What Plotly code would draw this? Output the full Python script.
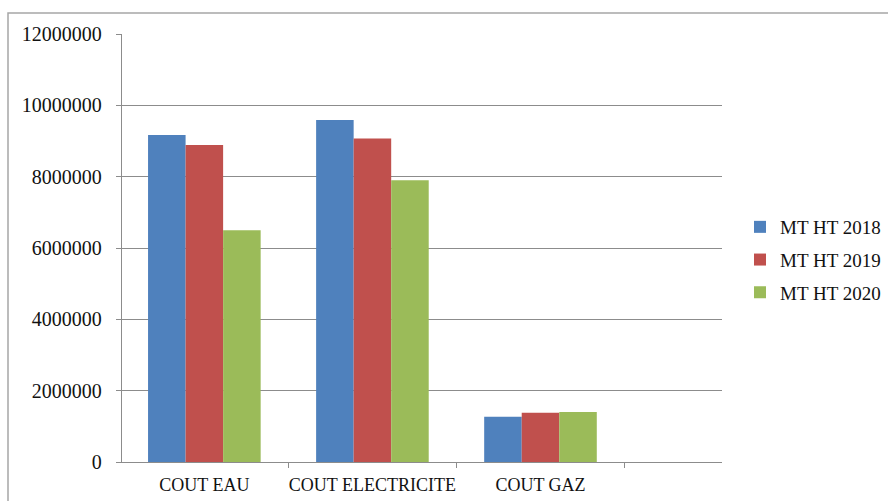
import plotly.graph_objects as go

categories = ["COUT EAU", "COUT ELECTRICITE", "COUT GAZ"]
series_names = ["MT HT 2018", "MT HT 2019", "MT HT 2020"]
values_2018 = [9170000, 9590000, 1270000]
values_2019 = [8890000, 9070000, 1380000]
values_2020 = [6500000, 7900000, 1400000]
colors = ["#4F81BD", "#C0504D", "#9BBB59"]

fig = go.Figure()
for name, vals, col in zip(series_names, [values_2018, values_2019, values_2020], colors):
    fig.add_trace(go.Bar(x=categories, y=vals, name=name, marker_color=col,
                         marker_line_width=0, legendgroup=name))

W, H = 888, 501
L, R, T, B = 122, 166, 34, 39
pw, ph = W - L - R, H - T - B

fig.update_layout(
    width=W, height=H,
    margin=dict(l=L, r=R, t=T, b=B, pad=0, autoexpand=False),
    paper_bgcolor="white", plot_bgcolor="white",
    barmode="group", bargap=0.33, bargroupgap=0,
    font=dict(family="Liberation Serif", color="#111111"),
    legend=dict(x=(740 - L) / pw, xanchor="left", y=(H - B - 260) / ph, yanchor="middle",
                font=dict(size=19, family="Liberation Serif", color="#111111"),
                itemwidth=30, tracegroupgap=5, traceorder="grouped",
                bgcolor="rgba(0,0,0,0)"),
    showlegend=True,
)
fig.update_yaxes(range=[0, 12000000], dtick=2000000, tickformat="d",
                 showgrid=True, gridcolor="#8c8c8c", gridwidth=1.3,
                 showline=True, linecolor="#8c8c8c", linewidth=1.3,
                 ticks="outside", ticklen=5, tickcolor="#8c8c8c", tickwidth=1.3,
                 ticklabelstandoff=10, automargin=False,
                 tickfont=dict(size=20, family="Liberation Serif", color="#111111"),
                 zeroline=False)
fig.update_xaxes(type="category", categoryorder="array", categoryarray=categories,
                 range=[-0.49, 3.08], tickson="boundaries", tickangle=0,
                 showgrid=False, showline=True, linecolor="#8c8c8c", linewidth=1.3,
                 ticks="outside", ticklen=5, tickcolor="#8c8c8c", tickwidth=1.3,
                 ticklabelstandoff=6, automargin=False,
                 tickfont=dict(size=18, family="Liberation Serif", color="#111111"))
# outer chart border
fig.add_shape(type="rect", xref="paper", yref="paper",
              x0=(8 - L) / pw, x1=(W + 20 - L) / pw,
              y0=(H - B - (H + 20)) / ph, y1=(H - B - 13) / ph,
              line=dict(color="#a6a6a6", width=1.5), fillcolor="rgba(0,0,0,0)", layer="below")

fig.write_html("out.html", config={"displayModeBar": False},
               post_script="document.body.style.margin='0';document.body.style.overflow='hidden';")
